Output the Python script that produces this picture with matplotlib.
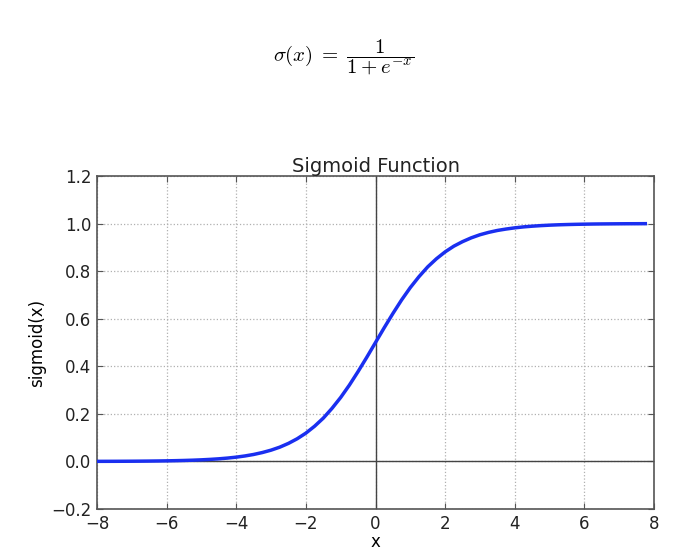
import matplotlib
matplotlib.use("Agg")
import matplotlib.pyplot as plt

# values
x_vals = [-8.0, -7.75, -7.5, -7.25, -7.0, -6.75, -6.5, -6.25, -6.0, -5.75,
          -5.5, -5.25, -5.0, -4.75, -4.5, -4.25, -4.0, -3.75, -3.5, -3.25,
          -3.0, -2.75, -2.5, -2.25, -2.0, -1.75, -1.5, -1.25, -1.0, -0.75,
          -0.5, -0.25, 0.0, 0.25, 0.5, 0.75, 1.0, 1.25, 1.5, 1.75, 2.0,
          2.25, 2.5, 2.75, 3.0, 3.25, 3.5, 3.75, 4.0, 4.25, 4.5, 4.75, 5.0,
          5.25, 5.5, 5.75, 6.0, 6.25, 6.5, 6.75, 7.0, 7.25, 7.5, 7.75]
y_vals = [0.00034, 0.00043, 0.00055, 0.00071, 0.00091, 0.00117, 0.0015,
          0.00193, 0.00247, 0.00317, 0.00407, 0.00522, 0.0067, 0.0086,
          0.011, 0.0141, 0.018, 0.023, 0.0293, 0.0374, 0.0474, 0.06, 0.0759,
          0.0953, 0.119, 0.148, 0.182, 0.223, 0.269, 0.321, 0.378, 0.438,
          0.5, 0.562, 0.622, 0.679, 0.731, 0.777, 0.818, 0.852, 0.881,
          0.905, 0.924, 0.94, 0.953, 0.963, 0.971, 0.977, 0.982, 0.986,
          0.989, 0.9914, 0.9933, 0.9948, 0.9959, 0.9968, 0.9975, 0.9981,
          0.9985, 0.9988, 0.9991, 0.9993, 0.9994, 0.9996]
x_ticks = [-8, -6, -4, -2, 0, 2, 4, 6, 8]
y_ticks = [-0.2, 0.0, 0.2, 0.4, 0.6, 0.8, 1.0, 1.2]

plt.rcParams['mathtext.fontset'] = 'cm'

fig = plt.figure(figsize=(6.87, 5.54), dpi=100)
fig.text(0.5, 1 - 57 / 554, r'$\sigma(x)\;=\;\dfrac{1}{1 + e^{-x}}$',
         ha='center', va='center', fontsize=15)

ax = fig.add_axes([97 / 687, 45 / 554, 557 / 687, 333 / 554])
ax.plot(x_vals, y_vals, color='#1a2ff0', lw=2.5, zorder=3)
ax.axhline(0, color='#444444', lw=1.0, zorder=2)
ax.axvline(0, color='#444444', lw=1.0, zorder=2)

ax.set_xlim(-8, 8)
ax.set_ylim(-0.2, 1.2)
ax.set_xticks(x_ticks)
ax.set_yticks(y_ticks)
ax.set_yticklabels(['%.1f' % v if v >= 0 else '\u2212%.1f' % -v for v in y_ticks])
ax.grid(True, linestyle=':', color='#b0b0b0', lw=0.9)
ax.tick_params(direction='in', top=True, right=True, length=4,
               labelsize=12, color='#555555', labelcolor='#222222', pad=4)
for s in ax.spines.values():
    s.set_color('#555555')
    s.set_linewidth(1.2)

ax.set_title('Sigmoid Function', fontsize=14, color='#222222', pad=3)
ax.set_xlabel('x', fontsize=12, labelpad=0)
ax.set_ylabel('sigmoid(x)', fontsize=12, labelpad=4)

fig.savefig('out.png', dpi=100)
